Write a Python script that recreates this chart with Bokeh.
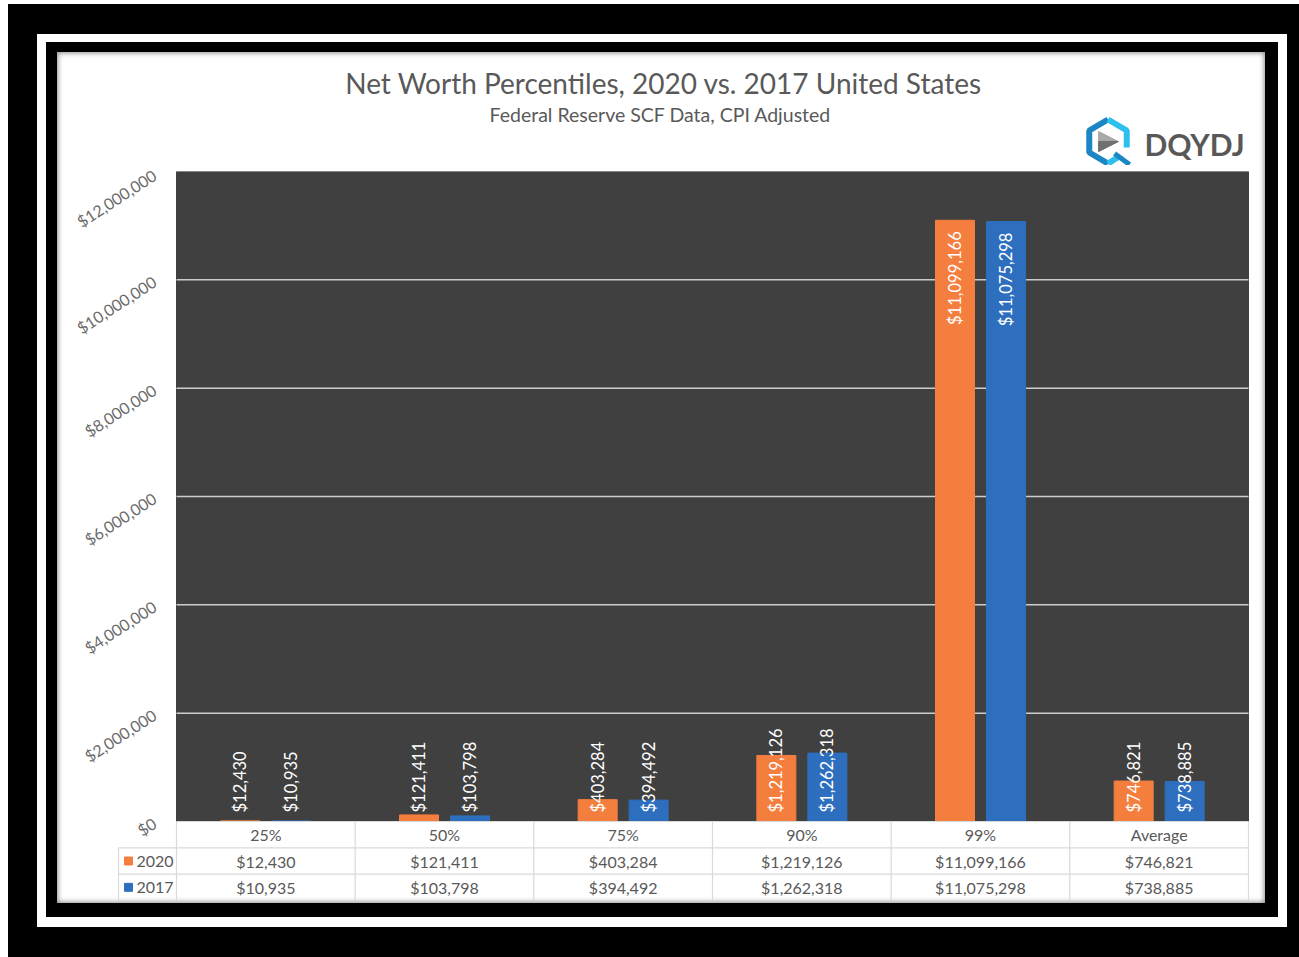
import math
from bokeh.plotting import figure
from bokeh.layouts import column
from bokeh.models import Range1d, FixedTicker, NumeralTickFormatter
from bokeh.core.properties import value
from bokeh.embed import file_html
from bokeh.resources import INLINE

# ---------------- data ----------------
categories = ["25%", "50%", "75%", "90%", "99%", "Average"]
series_names = ["2020", "2017"]
values_2020 = [12430, 121411, 403284, 1219126, 11099166, 746821]
values_2017 = [10935, 103798, 394492, 1262318, 11075298, 738885]
y_ticks = [0, 2000000, 4000000, 6000000, 8000000, 10000000, 12000000]
title_text = "Net Worth Percentiles, 2020 vs. 2017 United States"
subtitle_text = "Federal Reserve SCF Data, CPI Adjusted"
logo_text = "DQYDJ"

# ---------------- style ----------------
ORANGE = "#F47E3E"
BLUE = "#2D6FBE"
DARK = "#404040"
TXT = "#595959"
AXT = "#6A6A6A"
TLINE = "#D9D9D9"
GRIDC = "#CDCDCD"
FONT = "Lato"
F = value(FONT)

# page pixel layout
CH_L, CH_T, CH_R, CH_B = 57, 52, 1265, 903
HEAD_B = 165
FR_L, FR_T, FR_R, FR_B = 117, 171, 1249, 901
PX0, PXN = 176, 1248
PY0, PYMAX = 821, 171
TBL_B = 900

n = len(categories)
unit = (PXN - PX0) / n
ymax = y_ticks[-1]
per = (PY0 - PYMAX) / ymax
row = (TBL_B - PY0) / 3.0

def px2x(px):
    return (px - PX0) / unit

def pxh(h):
    return h / per

# ---------------- header ----------------
h = figure(width=CH_R - CH_L, height=HEAD_B - CH_T,
           x_range=Range1d(CH_L, CH_R), y_range=Range1d(HEAD_B, CH_T),
           x_axis_location=None, y_axis_location=None,
           output_backend="svg", toolbar_location=None,
           min_border=0, outline_line_color=None,
           background_fill_alpha=0, border_fill_alpha=0)
h.grid.visible = False
h.text(x=[300], y=[82], text=[title_text], text_font=F,
       text_font_size="28px", text_color=TXT, text_align="left",
       text_baseline="middle")
h.text(x=[454], y=[114], text=[subtitle_text], text_font=F,
       text_font_size="19.5px", text_color=TXT, text_align="left",
       text_baseline="middle")
# logo icon (decorative)
h.patch(x=[1104, 1125, 1104], y=[131, 141, 151], color="#A8A8A8")
h.patch(x=[1104, 1125, 1104], y=[141, 141, 151], color="#707070")
h.line(x=[1114, 1094, 1094, 1114], y=[119, 130, 152, 163], line_color="#1C86C4", line_width=6)
h.line(x=[1114, 1134, 1134], y=[119, 130, 147], line_color="#2CC0EE", line_width=6)
h.line(x=[1114, 1126], y=[163, 156], line_color="#2CC0EE", line_width=6)
h.line(x=[1121, 1137], y=[153, 164], line_color="#1C86C4", line_width=5)
h.text(x=[1153], y=[143], text=[logo_text], text_font=F, text_font_style="bold",
       text_font_size="30px", text_color="#585858", text_align="left",
       text_baseline="middle")

# ---------------- chart ----------------
p = figure(width=CH_R - CH_L, height=CH_B - HEAD_B,
           x_range=Range1d(px2x(FR_L), n + (FR_R - PXN) / unit),
           y_range=Range1d(-(FR_B - PY0) / per, ymax + (PYMAX - FR_T) / per),
           x_axis_location=None,
           output_backend="svg", toolbar_location=None,
           min_border_left=FR_L - CH_L, min_border_right=CH_R - FR_R,
           min_border_top=FR_T - HEAD_B, min_border_bottom=CH_B - FR_B,
           outline_line_color=None,
           background_fill_alpha=0, border_fill_alpha=0)
p.extra_y_ranges = {"tbl": Range1d(-(FR_B - TBL_B) / row, (TBL_B - FR_T) / row)}
p.grid.visible = False

# dark plot area + gridlines
p.quad(left=[0], right=[n], bottom=[0], top=[ymax], color=DARK, level="underlay")
inner = y_ticks[1:-1]
p.segment(x0=[0] * len(inner), x1=[n] * len(inner), y0=inner, y1=inner,
          line_color=GRIDC, line_width=1.5, level="underlay")

# bars
off = 25.5 / unit
bw = 39.0 / unit
xs20 = [i + 0.5 - off for i in range(n)]
xs17 = [i + 0.5 + off for i in range(n)]
p.vbar(x=xs20, top=values_2020, bottom=0, width=bw, color=ORANGE)
p.vbar(x=xs17, top=values_2017, bottom=0, width=bw, color=BLUE)

# data labels (rotated, Excel "inside end" clamped at base)
CHAR_PX = 8.2
LBL = "16.5px"
for xs, vals in ((xs20, values_2020), (xs17, values_2017)):
    in_x, in_y, in_t, b_x, b_t = [], [], [], [], []
    for x, v in zip(xs, vals):
        t = f"${v:,}"
        if v * per - 11 - len(t) * CHAR_PX >= 9:
            in_x.append(x); in_y.append(v - pxh(11)); in_t.append(t)
        else:
            b_x.append(x); b_t.append(t)
    if in_x:
        p.text(x=in_x, y=in_y, text=in_t, angle=math.pi / 2, text_align="right",
               text_baseline="middle", text_font=F, text_font_size=LBL,
               text_color="white")
    if b_x:
        p.text(x=b_x, y=[pxh(9)] * len(b_x), text=b_t, angle=math.pi / 2,
               text_align="left", text_baseline="middle", text_font=F,
               text_font_size=LBL, text_color="white")

# y axis
ax = p.yaxis[0]
ax.ticker = FixedTicker(ticks=y_ticks)
ax.formatter = NumeralTickFormatter(format="$0,0")
ax.major_label_orientation = math.radians(33)
ax.axis_line_color = None
ax.major_tick_line_color = None
ax.minor_tick_line_color = None
ax.major_tick_out = 0
ax.major_tick_in = 0
ax.major_label_standoff = -37
ax.major_label_text_font = FONT
ax.major_label_text_font_size = "16px"
ax.major_label_text_color = AXT
ax.major_label_text_baseline = "bottom"

# data table under the chart
TFS = "16px"
xl = px2x(FR_L + 1)
hx = [[0, n], [xl, n], [xl, n], [xl, n]]
hy = [[3, 3], [2, 2], [1, 1], [0, 0]]
vx = [[i, i] for i in range(n + 1)] + [[xl, xl]]
vy = [[0, 3]] * (n + 1) + [[0, 2]]
p.multi_line(xs=hx + vx, ys=hy + vy, line_color=TLINE, line_width=1.2, y_range_name="tbl")

cx = [i + 0.5 for i in range(n)]
p.text(x=cx, y=[2.5] * n, text=categories, y_range_name="tbl", text_font=F,
       text_font_size=TFS, text_color=TXT, text_align="center", text_baseline="middle")
p.text(x=cx, y=[1.5] * n, text=[f"${v:,}" for v in values_2020], y_range_name="tbl",
       text_font=F, text_font_size=TFS, text_color=TXT, text_align="center",
       text_baseline="middle")
p.text(x=cx, y=[0.5] * n, text=[f"${v:,}" for v in values_2017], y_range_name="tbl",
       text_font=F, text_font_size=TFS, text_color=TXT, text_align="center",
       text_baseline="middle")
p.scatter(x=[px2x(128)] * 2, y=[1.5, 0.5], marker="square", size=8,
          color=[ORANGE, BLUE], y_range_name="tbl")
p.text(x=[px2x(136)] * 2, y=[1.5, 0.5], text=series_names, y_range_name="tbl",
       text_font=F, text_font_size=TFS, text_color=TXT, text_align="left",
       text_baseline="middle")

shadow = ("inset 0 0 5px 1px rgba(0,0,0,0.45), "
          "1px 2px 0 12px #000, 1px 3px 0 21px #fff, 3px 4px 0 52px #000")
layout = column(h, p, spacing=0, margin=(CH_T, 0, 0, CH_L),
                styles={"background-color": "white", "box-shadow": shadow})

open("out.html", "w").write(file_html(layout, INLINE))
